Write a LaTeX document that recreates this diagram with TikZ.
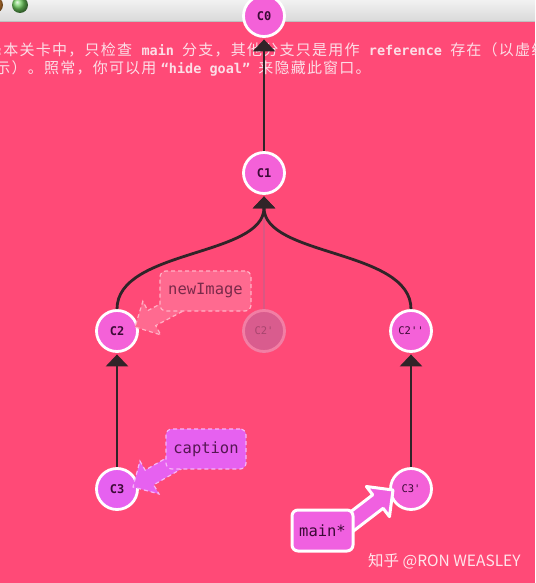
\documentclass[tikz,border=0pt]{standalone}
\usepackage{fontspec}
\setmonofont{DejaVu Sans Mono}
\newfontfamily\cjk[LetterSpace=8.3]{Noto Sans CJK SC}
\newfontfamily\wmfont{Noto Sans CJK SC}
\newcommand\zh[1]{{\cjk\fontsize{15}{18}\selectfont #1}}
\usetikzlibrary{calc,arrows.meta,shapes.geometric}
\definecolor{bgpink}{HTML}{FF4A77}
\definecolor{toptext}{HTML}{FCDDE6}
\definecolor{nodefill}{HTML}{F461D8}
\definecolor{violetfill}{HTML}{E661F0}
\definecolor{nodetext}{HTML}{3B0A36}
\definecolor{edgecol}{HTML}{302428}
\definecolor{fadefill}{HTML}{D95C8E}
\definecolor{fadeborder}{HTML}{F27EA4}
\definecolor{fadetext}{HTML}{A8456E}
\definecolor{fadeline}{HTML}{DB5682}
\definecolor{niFill}{HTML}{FF6A90}
\definecolor{niBorder}{HTML}{FFB3C6}
\definecolor{niText}{HTML}{7A2A4A}
\definecolor{capBorder}{HTML}{F7B5F7}
\definecolor{mainFill}{HTML}{F060E0}
\definecolor{lightgreen}{RGB}{110,205,95}
\definecolor{lightorange}{RGB}{240,150,60}
\newcommand\fatarrow[3]{%
  \coordinate (fa-h) at ($(#3)!19pt!(#2)$);
  \path[#1] ($(#2)!8.5pt!90:(#3)$) -- ($(fa-h)!8.5pt!-90:(#2)$) -- ($(fa-h)!19pt!-90:(#2)$) -- (#3) -- ($(fa-h)!19pt!90:(#2)$) -- ($(fa-h)!8.5pt!90:(#2)$) -- ($(#2)!8.5pt!-90:(#3)$) -- cycle;}
\tikzset{
  commit/.style={circle, draw=white, line width=2.8pt, fill=nodefill, minimum size=41pt, inner sep=0pt,
    text=nodetext, font=\ttfamily\bfseries\fontsize{12}{14}\selectfont},
  committhin/.style={commit, font=\ttfamily\fontsize{10.5}{12}\selectfont},
  gitedge/.style={draw=edgecol, line width=2.8pt, -{Triangle[width=22pt,length=12pt]}, shorten >=1.5pt},
  lbl/.style={rounded corners=6pt, inner sep=0pt, font=\ttfamily\fontsize{15.5}{18}\selectfont},
  topline/.style={anchor=base west, inner sep=0pt, text=toptext, font=\ttfamily\fontsize{13.5}{18}\selectfont}
}
\begin{document}
\begin{tikzpicture}[x=1pt,y=-1pt]
\useasboundingbox (0,0) rectangle (535,583);
\clip (0,0) rectangle (535,583);
\fill[bgpink] (0,0) rectangle (535,583);
% window bar
\shade[top color=gray!10, bottom color=gray!30] (0,-1) rectangle (535,21.5);
\draw[gray!50, line width=0.8pt] (0,21.5) -- (535,21.5);
\shade[ball color=lightorange] (-5,5) circle (8);
\shade[ball color=lightgreen] (20,5) circle (8);
% hint text
\node[topline] (t1) at (-4.9,56) {\textbf{:}\zh{本关卡中，只检查}\ \textbf{main}\ \zh{分支，其他分支只是用作}\ \textbf{reference}\ \zh{存在（以虚线表示）。}};
\node[topline] (t2) at (-4.9,74) {\zh{示）。照常，你可以用}\hspace{3pt}\textbf{“hide goal”}\ \zh{来隐藏此窗口。}};
% commits
\node[commit] (c0) at (264,16) {C0};
\node[commit] (c1) at (264,173) {C1};
\node[commit] (c2) at (117,331) {C2};
\node[committhin, fill=fadefill, draw=fadeborder, text=fadetext] (c2p) at (264,331) {C2'};
\node[committhin] (c2pp) at (411,331) {C2''};
\node[commit, fill=violetfill] (c3) at (117,489) {C3};
\node[committhin] (c3p) at (411,489) {C3'};
% edges
\draw[fadeline, line width=2pt, shorten >=12pt] (c2p) -- (c1);
\draw[gitedge] (c1) -- (c0);
\draw[gitedge] (c2.north) .. controls +(0,-60) and +(0,62) .. (c1.south);
\draw[gitedge] (c2pp.north) .. controls +(0,-60) and +(0,62) .. (c1.south);
\draw[gitedge] (c3) -- (c2);
\draw[gitedge] (c3p) -- (c2pp);
% branch arrows
\coordinate (niA) at (197,294); \coordinate (niB) at (135,327);
\coordinate (capA) at (197,450); \coordinate (capB) at (133,487);
\coordinate (mA) at (333,536); \coordinate (mB) at (393,490);
\fatarrow{fill=niFill, draw=niBorder, line width=1.2pt, dash pattern=on 4pt off 3pt}{niA}{niB}
\fatarrow{fill=violetfill, draw=capBorder, line width=1.2pt, dash pattern=on 4pt off 3pt}{capA}{capB}
\fatarrow{fill=mainFill, draw=white, line width=3pt, line join=round}{mA}{mB}
% branch labels
\node[lbl, fill=niFill, draw=niBorder, line width=1.2pt, dash pattern=on 4pt off 3pt, text=niText, minimum width=91pt, minimum height=40pt] (ni) at (205.5,291) {newImage};
\node[lbl, fill=violetfill, draw=capBorder, line width=1.2pt, dash pattern=on 4pt off 3pt, text=nodetext!85!violetfill, minimum width=80pt, minimum height=40pt] (cap) at (206,449) {caption};
\node[lbl, fill=mainFill, draw=white, line width=3pt, text=nodetext, minimum width=61pt, minimum height=41pt] (mn) at (322.5,530.5) {main*};
% watermark
\node[anchor=base west, inner sep=0pt, text=white, opacity=0.85, font=\wmfont\fontsize{15.5}{18}\selectfont] (wm) at (368,566) {知乎 @RON WEASLEY};
\end{tikzpicture}
\end{document}
